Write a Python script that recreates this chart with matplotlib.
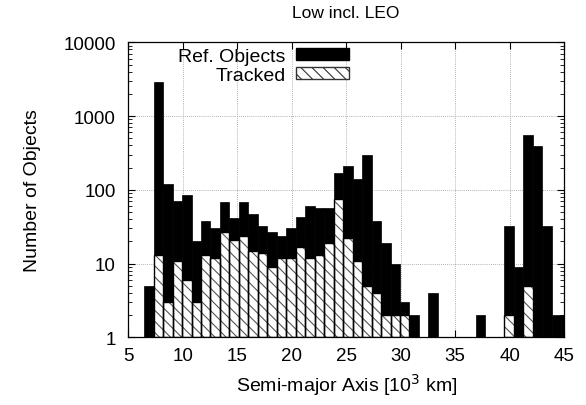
import numpy as np
import matplotlib.pyplot as plt
from matplotlib.ticker import FixedLocator, LogLocator, NullFormatter

plt.rcParams['font.family'] = ['Liberation Sans', 'DejaVu Sans']
plt.rcParams['hatch.linewidth'] = 0.8

# histogram bins (semi-major axis, 10^3 km)
first_edge = 6.45
bin_width = 0.87

# number of objects per bin
ref_objects = [5, 2900, 120, 71, 85, 20, 38, 30, 69, 41, 68, 47, 32, 27, 24,
               30, 43, 61, 57, 57, 170, 213, 141, 298, 38, 19, 10, 3, 2, 0,
               4, 0, 0, 0, 0, 2, 0, 0, 32, 9, 550, 390, 32, 2, 2]
tracked = [0, 13, 3, 11, 6, 3, 13, 12, 27, 21, 24, 15, 14, 9, 12,
           12, 17, 12, 13, 19, 75, 22, 11, 5, 4, 2, 2, 2, 0, 0,
           0, 0, 0, 0, 0, 0, 0, 0, 2, 0, 5, 0, 0, 0, 0]

x_ticks = [5, 10, 15, 20, 25, 30, 35, 40, 45]
y_ticks = [1, 10, 100, 1000, 10000]
y_tick_labels = ['1', '10', '100', '1000', '10000']

ref_objects = np.array(ref_objects, dtype=float)
tracked = np.array(tracked, dtype=float)
left = first_edge + bin_width * np.arange(len(ref_objects))

fig = plt.figure(figsize=(5.86, 4.06), dpi=100)
ax = fig.add_axes([0.219, 0.1667, 0.7435, 0.7266])
ax.set_yscale('log')

# black bars for all reference objects (bars start at y = 1)
m = ref_objects > 0
ax.bar(left[m], ref_objects[m] - 1, width=bin_width, bottom=1, align='edge',
       color='black', edgecolor='black', linewidth=0.5, zorder=2)

# hatched bars for tracked objects
t = tracked > 0
ax.bar(left[t], tracked[t] - 1, width=bin_width, bottom=1, align='edge',
       color='white', edgecolor='#555555', hatch='\\\\\\', linewidth=0,
       zorder=3)
ax.bar(left[t], tracked[t] - 1, width=bin_width, bottom=1, align='edge',
       fill=False, edgecolor='black', linewidth=1.0, zorder=4)

# legend proxies (text first, sample after, like gnuplot)
h1 = plt.Rectangle((0, 0), 1, 1, facecolor='black', edgecolor='black')
h2 = plt.Rectangle((0, 0), 1, 1, facecolor='white', edgecolor='#333333',
                   hatch='\\\\\\', linewidth=1.0)
ax.legend([h1, h2], ['Ref. Objects', 'Tracked'], loc='upper right',
          bbox_to_anchor=(349 / 586, 1 - 49 / 406),
          bbox_transform=fig.transFigure, frameon=False, markerfirst=False,
          fontsize=14, handlelength=2.75, handleheight=0.55,
          handletextpad=0.5, labelspacing=0.1, borderpad=0,
          borderaxespad=0)

ax.set_xlim(5, 45)
ax.set_ylim(1, 10000)
ax.xaxis.set_major_locator(FixedLocator(x_ticks))
ax.yaxis.set_major_locator(FixedLocator(y_ticks))
ax.set_yticklabels(y_tick_labels)
ax.yaxis.set_minor_locator(LogLocator(base=10, subs=np.arange(2, 10)))
ax.yaxis.set_minor_formatter(NullFormatter())

ax.tick_params(which='both', direction='in', top=True, right=True,
               labelsize=13.5, color='black')
ax.tick_params(which='major', length=5, width=0.8)
ax.tick_params(which='minor', length=3, width=0.6)
ax.tick_params(axis='y', pad=9)
ax.tick_params(axis='x', pad=7)

ax.grid(True, which='major', color='#999999', linestyle=(0, (1, 1.5)),
        linewidth=0.6, zorder=0)
ax.set_axisbelow(True)
for s in ax.spines.values():
    s.set_linewidth(0.9)
    s.set_zorder(5)

ax.set_xlabel('Semi-major Axis [10$^3$ km]', fontsize=14, labelpad=5)
ax.set_ylabel('Number of Objects', fontsize=14, labelpad=16)
ax.set_title('Low incl. LEO', fontsize=12.5, pad=18)

fig.savefig('out.png', dpi=100)
